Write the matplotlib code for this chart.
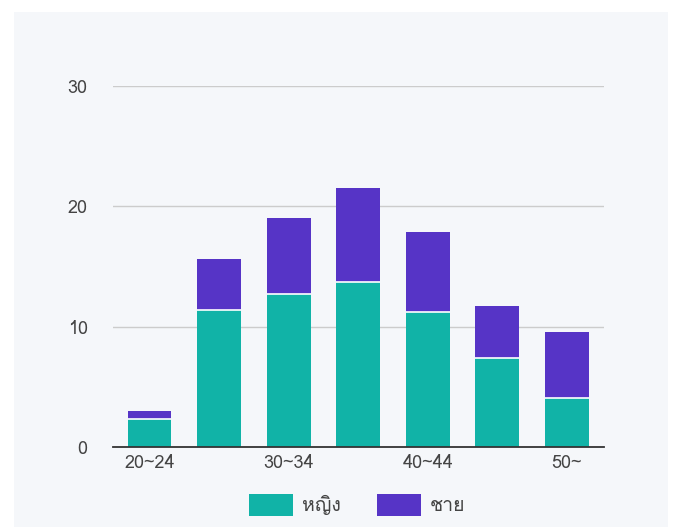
import matplotlib
matplotlib.use("Agg")
import matplotlib.pyplot as plt
from matplotlib import font_manager
from matplotlib.patches import Rectangle
import numpy as np

# data
age_groups = ["20~24", "25~29", "30~34", "35~39", "40~44", "45~49", "50~"]
female = [2.4, 11.4, 12.7, 13.7, 11.2, 7.4, 4.1]
male = [0.6, 4.2, 6.3, 7.8, 6.7, 4.3, 5.5]
series_names = ["หญิง", "ชาย"]
y_ticks = [0, 10, 20, 30]


def find_thai_font():
    # look for any installed font that has Thai glyphs
    try:
        from fontTools.ttLib import TTFont
    except ImportError:
        return None
    seen = set()
    for f in font_manager.fontManager.ttflist:
        if f.name in seen:
            continue
        try:
            tt = TTFont(f.fname, fontNumber=0, lazy=True)
            cmap = tt.getBestCmap()
            if cmap and 0x0E0D in cmap and 0x0E22 in cmap:
                return f.name
        except Exception:
            pass
        seen.add(f.name)
    return None


thai = find_thai_font()
families = ["DejaVu Sans"]
if thai:
    families = [thai, "DejaVu Sans"]
plt.rcParams['font.family'] = families

teal = "#11b3a7"
purple = "#5634c6"
panel_bg = "#f5f7fa"
text_col = "#444444"
fs = 13

fig = plt.figure(figsize=(6.73, 5.27), dpi=100, facecolor="white")
fig.patches.append(Rectangle((14 / 673, 0), 654 / 673, 515 / 527,
                             transform=fig.transFigure, facecolor=panel_bg,
                             edgecolor="none", zorder=-10))
ax = fig.add_axes([0.1675, 0.151, 0.7295, 0.686])
ax.set_facecolor(panel_bg)

x = np.arange(len(age_groups))
w = 0.63
ax.bar(x, female, width=w, color=teal, label=series_names[0], zorder=3)
ax.bar(x, male, width=w, bottom=female, color=purple, label=series_names[1],
       zorder=3, linewidth=0)
# thin white separator between the stacked segments
ax.hlines(female, x - w / 2, x + w / 2, colors="white", linewidth=1.2, zorder=4)

ax.set_xlim(-0.53, len(age_groups) - 0.47)
ax.set_ylim(0, 30)
ax.set_yticks(y_ticks)
ax.set_xticks(x[::2])
ax.set_xticklabels(age_groups[::2])
ax.grid(axis="y", color="#cccccc", linewidth=1, zorder=0)
for s in ["top", "right", "left"]:
    ax.spines[s].set_visible(False)
ax.spines["bottom"].set_color("#333333")
ax.spines["bottom"].set_linewidth(1.3)
ax.spines["bottom"].set_zorder(5)
ax.tick_params(axis="both", length=0, labelsize=fs, colors=text_col)
ax.tick_params(axis="x", pad=5)
ax.tick_params(axis="y", pad=18)

fig.legend(loc="center", bbox_to_anchor=(357 / 673, 1 - 505 / 527), ncol=2,
           frameon=False, fontsize=14, handlelength=2.27, handleheight=1.4,
           columnspacing=1.86, handletextpad=0.46, labelcolor=text_col,
           borderpad=0, borderaxespad=0)

fig.savefig("out.png", dpi=100, facecolor="white")
